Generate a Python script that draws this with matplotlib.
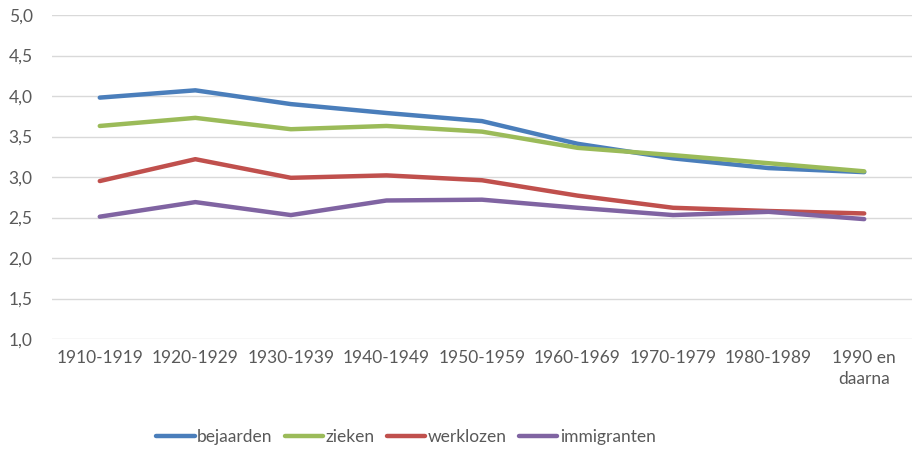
import matplotlib
matplotlib.use("Agg")
import matplotlib.pyplot as plt

categories = ["1910-1919", "1920-1929", "1930-1939", "1940-1949", "1950-1959",
              "1960-1969", "1970-1979", "1980-1989", "1990 en\ndaarna"]
bejaarden = [3.98, 4.07, 3.90, 3.79, 3.69, 3.41, 3.23, 3.11, 3.06]
zieken = [3.63, 3.73, 3.59, 3.63, 3.56, 3.36, 3.27, 3.17, 3.07]
werklozen = [2.95, 3.22, 2.99, 3.02, 2.96, 2.77, 2.62, 2.58, 2.55]
immigranten = [2.51, 2.69, 2.53, 2.71, 2.72, 2.62, 2.53, 2.57, 2.48]
yticks = [1.0, 1.5, 2.0, 2.5, 3.0, 3.5, 4.0, 4.5, 5.0]

plt.rcParams['font.family'] = ['Lato', 'DejaVu Sans']
grey = "#595959"

fig = plt.figure(figsize=(9.13, 4.49), dpi=100)
ax = fig.add_axes([52/913, 1-339/449, (912-52)/913, (339-15)/449])

series = [("bejaarden", bejaarden, "#4A7EBB"),
          ("zieken", zieken, "#9BBB59"),
          ("werklozen", werklozen, "#C0504D"),
          ("immigranten", immigranten, "#8064A2")]
x = list(range(len(categories)))
for name, vals, col in series:
    ax.plot(x, vals, color=col, lw=3.2, label=name, solid_capstyle="round", solid_joinstyle="round")

ax.set_xlim(-0.5, len(categories) - 0.5)
ax.set_ylim(1.0, 5.0)
ax.set_yticks(yticks)
ax.set_yticklabels([f"{v:.1f}".replace(".", ",") for v in yticks])
ax.set_xticks(x)
ax.set_xticklabels(categories, linespacing=1.35)
ax.grid(axis="y", color="#D9D9D9", lw=1.0)
ax.set_axisbelow(True)
for s in ax.spines.values():
    s.set_visible(False)
ax.tick_params(axis="both", length=0, colors=grey, labelsize=12.5)
ax.tick_params(axis="x", pad=8)
ax.tick_params(axis="y", pad=14)

fig.legend(loc="center", bbox_to_anchor=(406/913, 1-437/449), ncol=4, frameon=False,
           fontsize=12.5, labelcolor=grey, handlelength=2.2, handletextpad=0.15,
           columnspacing=0.7)

fig.savefig("out.png", dpi=100)
